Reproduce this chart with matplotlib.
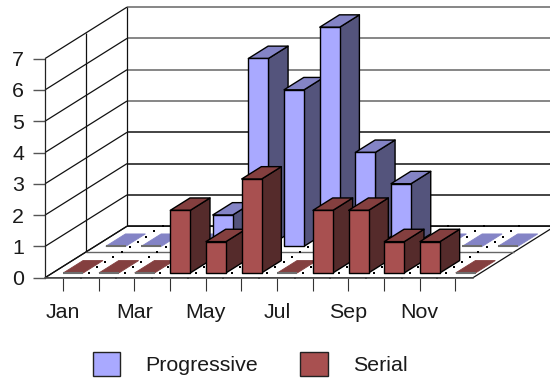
import numpy as np
import matplotlib
matplotlib.use('Agg')
import matplotlib.pyplot as plt
from matplotlib.patches import Patch, Polygon

months = ['Jan', 'Feb', 'Mar', 'Apr', 'May', 'Jun',
          'Jul', 'Aug', 'Sep', 'Oct', 'Nov', 'Dec']
progressive = [0, 0, 0, 1, 6, 5, 7, 3, 2, 0, 0, 0]
serial = [0, 0, 0, 2, 1, 3, 0, 2, 2, 1, 1, 0]
yticks = [0, 1, 2, 3, 4, 5, 6, 7]
# only every other month gets a label
xlabels = [m if i % 2 == 0 else '' for i, m in enumerate(months)]

# face colours: front, top, side
blue = ('#a9a9ff', '#8484c6', '#54547c')
red = ('#a85050', '#843f3f', '#552b2b')

# how far one full unit of depth moves a point, in axis units
DEPTH_X = 2.3
DEPTH_Y = 1.645

plt.rcParams['font.family'] = ['Liberation Sans', 'DejaVu Sans']
plt.rcParams['font.size'] = 15.4

W, H = 550, 379
fig = plt.figure(figsize=(W / 100, H / 100), dpi=100)
ax = fig.add_axes([45 / W, 1 - 277.7 / H, 428 / W, 219.1 / H])
ax.set_xlim(0, 12)
ax.set_ylim(0, 7)
ax.patch.set_visible(False)


def proj(x, v, d):
    return (x + d * DEPTH_X, v + d * DEPTH_Y)


def line3d(p0, p1, color='#111111', lw=0.9, zorder=1):
    a = proj(*p0)
    b = proj(*p1)
    ax.plot([a[0], b[0]], [a[1], b[1]], color=color, lw=lw, zorder=zorder,
            clip_on=False, solid_capstyle='butt')


# floor
floor = [proj(0, 0, 0), proj(12, 0, 0), proj(12, 0, 1), proj(0, 0, 1)]
ax.add_patch(Polygon(floor, closed=True, fc='white', ec='#111111', lw=0.9,
                     zorder=1, clip_on=False))
line3d((0, 0, 0.5), (12, 0, 0.5), color='#666666', lw=1.0, zorder=1.2)

# back and side wall grid
for v in yticks:
    color = '#666666' if v >= 4 else '#111111'
    line3d((0, v, 1), (14, v, 1), color=color, lw=1.1)
    line3d((0, v, 0), (0, v, 1))
for d in [0.5, 1]:
    line3d((0, 0, d), (0, 7, d))

# dotted lines on the floor between the months
for i in range(1, 12):
    for d in np.arange(0, 1.01, 0.1):
        px, py = proj(i, 0, d)
        ax.scatter([px], [py], s=3.5, marker='s', color='black', linewidths=0,
                   zorder=1.5, clip_on=False)


def bar3d(i, value, d0, colors, zorder):
    x0 = i + 0.30
    x1 = x0 + 0.56
    d1 = d0 + 0.24
    faces = [
        (colors[2], [proj(x1, 0, d0), proj(x1, 0, d1),
                     proj(x1, value, d1), proj(x1, value, d0)]),
        (colors[1], [proj(x0, value, d0), proj(x1, value, d0),
                     proj(x1, value, d1), proj(x0, value, d1)]),
        (colors[0], [proj(x0, 0, d0), proj(x1, 0, d0),
                     proj(x1, value, d0), proj(x0, value, d0)]),
    ]
    if value == 0:
        # an empty month is only its flat top with a grey front edge
        ax.add_patch(Polygon(faces[1][1], closed=True, fc=colors[1],
                             ec=colors[1], lw=0.6, zorder=zorder,
                             clip_on=False))
        line3d((x0, 0, d0), (x1, 0, d0), color='#6e6e6e', lw=1.5,
               zorder=zorder)
        return
    for fc, pts in faces:
        ax.add_patch(Polygon(pts, closed=True, fc=fc, ec='black', lw=1.0,
                             joinstyle='round', zorder=zorder, clip_on=False))


z = 3.0
for i, v in enumerate(progressive):
    bar3d(i, v, 0.61, blue, z)
    z += 0.01
for i, v in enumerate(serial):
    bar3d(i, v, 0.093, red, z)
    z += 0.01

# axes
for name in ['top', 'right']:
    ax.spines[name].set_visible(False)
ax.spines['left'].set_color('#222222')
ax.spines['left'].set_linewidth(0.9)
ax.spines['bottom'].set_color('#555555')
ax.spines['bottom'].set_linewidth(1.1)
ax.set_xticks(np.arange(12) + 0.5)
ax.set_xticklabels(xlabels)
ax.set_yticks(yticks)
ax.tick_params(axis='x', length=9, width=0.8, color='#333333', pad=9,
               labelcolor='#1a1a1a')
ax.tick_params(axis='y', length=9, width=1.0, color='#555555', pad=6,
               labelcolor='#1a1a1a')

handles = [Patch(fc=blue[0], ec='#222222', lw=1.0, label='Progressive'),
           Patch(fc=red[0], ec='#222222', lw=1.0, label='Serial')]
fig.legend(handles=handles, ncol=2, frameon=False, loc='center',
           bbox_to_anchor=(250 / W, 1 - 364 / H), handlelength=1.3,
           handleheight=1.3, handletextpad=1.15, columnspacing=2.0,
           labelcolor='#1a1a1a', borderpad=0, borderaxespad=0)

fig.savefig('out.png', dpi=100)
